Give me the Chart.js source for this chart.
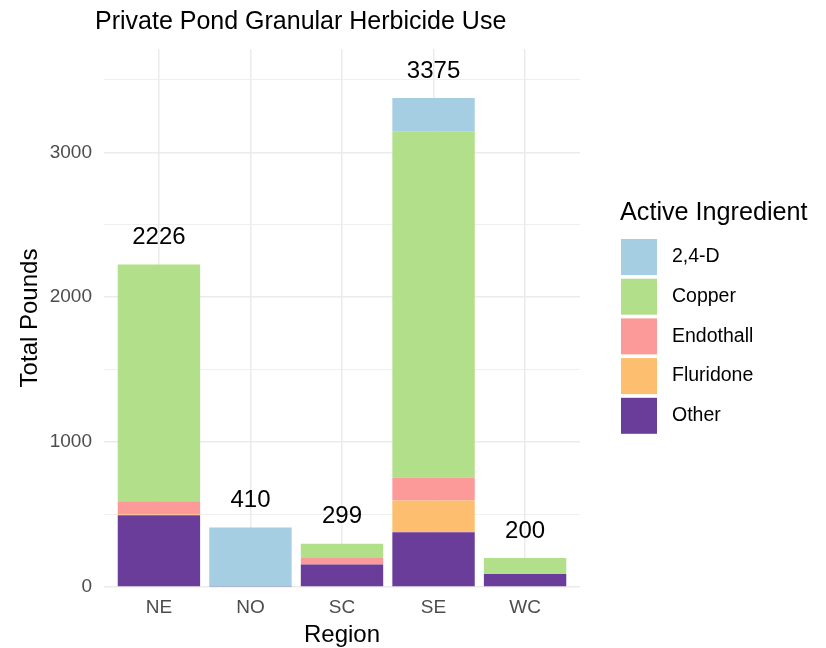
<html lang="en">
<head>
  <meta charset="UTF-8">
  <title>Private Pond Granular Herbicide Use</title>
  <style>
    html, body { margin: 0; padding: 0; background: #fff; }
    #wrap { width: 826px; height: 648px; }
  </style>
</head>
<body>
<div id="wrap"><canvas id="herbChart" width="826" height="648"></canvas></div>
<script src="https://cdn.jsdelivr.net/npm/chart.js@4.4.1/dist/chart.umd.min.js"></script>
<script>
  // data
  const regions = ['NE', 'NO', 'SC', 'SE', 'WC'];
  const ingredients = ['2,4-D', 'Copper', 'Endothall', 'Fluridone', 'Other'];
  const colors = ['#A6CEE3', '#B2DF8A', '#FB9A99', '#FDBF6F', '#6A3D9A'];

  const d24 = [0, 406, 0, 233, 0];
  const copper = [1634, 0, 99, 2387, 110];
  const endothall = [92, 0, 45, 158, 0];
  const fluridone = [5, 0, 0, 219, 0];
  const other = [495, 4, 155, 378, 90];

  const yTicks = [0, 1000, 2000, 3000];
  const yGrid = [0, 500, 1000, 1500, 2000, 2500, 3000, 3500];

  const FONT = "'Liberation Sans', Arial, sans-serif";
  const series = [d24, copper, endothall, fluridone, other];
  const totals = regions.map((r, i) => series.reduce((s, arr) => s + arr[i], 0));

  // ggplot stacks first level on top, so push datasets bottom-first
  const datasets = [];
  for (let k = ingredients.length - 1; k >= 0; k--) {
    datasets.push({
      label: ingredients[k],
      data: series[k].map((v, i) => ({x: i, y: v})),
      backgroundColor: colors[k],
      borderWidth: 0,
      barPercentage: 0.9,
      categoryPercentage: 1.0
    });
  }

  const extras = {
    id: 'extras',
    afterDatasetsDraw(chart) {
      const ctx = chart.ctx;
      const xs = chart.scales.x, ys = chart.scales.y;
      ctx.save();
      ctx.fillStyle = '#000';
      ctx.font = '24px ' + FONT;
      ctx.textAlign = 'center';
      ctx.textBaseline = 'middle';
      totals.forEach((t, i) => {
        ctx.fillText(String(t), xs.getPixelForValue(i), ys.getPixelForValue(t) - 27);
      });
      ctx.restore();
    },
    afterDraw(chart) {
      const ctx = chart.ctx;
      const area = chart.chartArea;
      ctx.save();
      // title
      ctx.fillStyle = '#000';
      ctx.textAlign = 'left';
      ctx.textBaseline = 'middle';
      ctx.font = '25px ' + FONT;
      ctx.fillText('Private Pond Granular Herbicide Use', area.left - 9, 22);
      // legend
      const lx = area.right + 41;
      ctx.font = '25.2px ' + FONT;
      ctx.fillText('Active Ingredient', lx - 1, 213);
      ctx.font = '19.5px ' + FONT;
      ingredients.forEach((name, k) => {
        const y = 239 + k * 39.7;
        ctx.fillStyle = colors[k];
        ctx.fillRect(lx, y, 36, 36);
        ctx.fillStyle = '#000';
        ctx.fillText(name, lx + 51, y + 18);
      });
      ctx.restore();
    }
  };

  new Chart(document.getElementById('herbChart'), {
    type: 'bar',
    data: { datasets: datasets },
    options: {
      responsive: false,
      animation: false,
      layout: { padding: { top: 49, right: 246, bottom: 0, left: 0 } },
      plugins: { legend: { display: false }, tooltip: { enabled: false } },
      scales: {
        x: {
          type: 'linear',
          stacked: true,
          offset: false,
          min: -0.6,
          max: 4.6,
          afterFit: s => { s.height = 61; },
          border: { display: false },
          grid: { color: '#EBEBEB', lineWidth: 1.5, drawTicks: false, offset: false },
          ticks: {
            stepSize: 1,
            includeBounds: false,
            autoSkip: false,
            maxRotation: 0,
            padding: 9,
            color: '#4D4D4D',
            font: { family: FONT, size: 19 },
            callback: v => Number.isInteger(v) ? regions[v] : ''
          },
          title: {
            display: true,
            text: 'Region',
            color: '#000',
            font: { family: FONT, size: 24, lineHeight: 1 },
            padding: { top: 0, bottom: 1 }
          }
        },
        y: {
          stacked: true,
          min: 0,
          max: 3713,
          afterFit: s => { s.width = 104; },
          afterBuildTicks: s => { s.ticks = yGrid.map(v => ({ value: v })); },
          border: { display: false },
          grid: {
            color: '#EBEBEB',
            drawTicks: false,
            lineWidth: c => (c.tick && yTicks.includes(c.tick.value)) ? 1.5 : 0.8
          },
          ticks: {
            autoSkip: false,
            padding: 12,
            color: '#4D4D4D',
            font: { family: FONT, size: 19 },
            callback: v => yTicks.includes(v) ? String(v) : ''
          },
          title: {
            display: true,
            text: 'Total Pounds',
            color: '#000',
            font: { family: FONT, size: 24, lineHeight: 1.2 },
            padding: { top: 16, bottom: 0 }
          }
        }
      }
    },
    plugins: [extras]
  });
</script>
</body>
</html>
